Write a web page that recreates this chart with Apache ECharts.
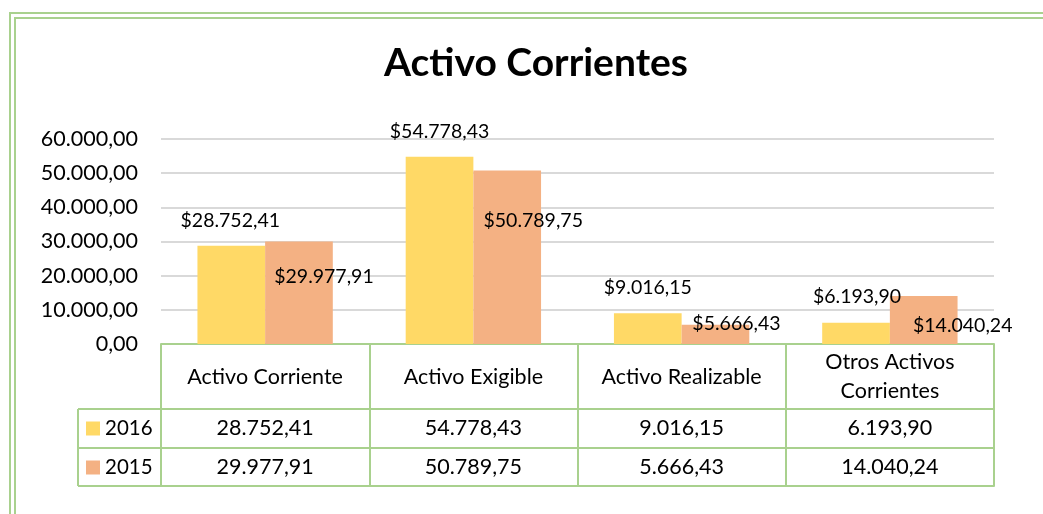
<!DOCTYPE html>
<html>
<head>
<meta charset="utf-8">
<script src="https://cdn.jsdelivr.net/npm/echarts@6/dist/echarts.min.js"></script>
<style>
html,body{margin:0;padding:0;background:#fff;}
#chart{width:1043px;height:514px;}
</style>
</head>
<body>
<div id="chart"></div>
<script>
var categories = ['Activo Corriente', 'Activo Exigible', 'Activo Realizable', 'Otros Activos Corrientes'];
var serie2016 = [28752.41, 54778.43, 9016.15, 6193.90];
var serie2015 = [29977.91, 50789.75, 5666.43, 14040.24];
var yTicks = [0, 10000, 20000, 30000, 40000, 50000, 60000];

// label nudges, like the hand-moved labels in the original
var off2016 = [[-1, -10], [0, -10], [0, -10], [1, -11]];
var off2015 = [[25, 50], [26, 65], [21, 14], [39, 45]];

var green = '#A9D18E';
var txt = '#000';
var font = 'Lato';
var tblSize = 21.5, lblSize = 19.5;

// grid box
var gl = 161, gr = 994, gt = 139, gb = 344;
var row1 = 409, row2 = 448, row3 = 486, legX = 78;

function fmt(v) {
    var p = v.toFixed(2).split('.');
    return p[0].replace(/\B(?=(\d{3})+(?!\d))/g, '.') + ',' + p[1];
}

function withOffset(vals, offs) {
    return vals.map(function (v, i) {
        return {value: v, label: {offset: offs[i]}};
    });
}

var myChart = echarts.init(document.getElementById('chart'));
var option = {
    animation: false,
    textStyle: {fontFamily: font},
    title: {
        text: 'Activo Corrientes',
        left: 384,
        top: 44,
        padding: 0,
        textStyle: {fontFamily: font, fontSize: 39, fontWeight: 'bold', color: txt}
    },
    legend: {
        orient: 'vertical',
        left: 86,
        top: 418,
        padding: 0,
        itemWidth: 14,
        itemHeight: 14,
        itemGap: 18,
        icon: 'rect',
        selectedMode: false,
        data: ['2016', '2015'],
        textStyle: {fontFamily: font, fontSize: 20.5, color: txt, lineHeight: 20, verticalAlign: 'middle'}
    },
    grid: {left: gl, right: 1043 - gr, top: gt, bottom: 514 - gb},
    xAxis: [{
        type: 'category',
        data: categories,
        axisLine: {lineStyle: {color: green, width: 2}},
        axisTick: {show: true, length: row1 - gb, lineStyle: {color: green, width: 2}},
        axisLabel: {
            color: txt, fontSize: tblSize, fontFamily: font, margin: 33,
            verticalAlign: 'middle', lineHeight: 29,
            interval: 0,
            formatter: function (v) { return v.replace('Otros Activos ', 'Otros Activos\n'); }
        }
    }, {
        type: 'category',
        position: 'bottom',
        offset: row1 - gb,
        data: serie2016.map(fmt),
        axisLine: {lineStyle: {color: green, width: 2}},
        axisTick: {show: true, length: row2 - row1, lineStyle: {color: green, width: 2}},
        axisLabel: {color: txt, fontSize: tblSize, fontFamily: font, margin: 19, verticalAlign: 'middle', interval: 0}
    }, {
        type: 'category',
        position: 'bottom',
        offset: row2 - gb,
        data: serie2015.map(fmt),
        axisLine: {lineStyle: {color: green, width: 2}},
        axisTick: {show: true, length: row3 - row2, lineStyle: {color: green, width: 2}},
        axisLabel: {color: txt, fontSize: tblSize, fontFamily: font, margin: 19, verticalAlign: 'middle', interval: 0}
    }, {
        type: 'category',
        position: 'bottom',
        offset: row3 - gb,
        data: categories,
        axisLine: {lineStyle: {color: green, width: 2}},
        axisTick: {show: false},
        axisLabel: {show: false}
    }],
    yAxis: {
        type: 'value',
        min: yTicks[0],
        max: yTicks[yTicks.length - 1],
        interval: yTicks[1] - yTicks[0],
        axisLine: {show: false},
        axisTick: {show: false},
        axisLabel: {
            color: txt, fontSize: tblSize, fontFamily: font, margin: 23,
            formatter: function (v) { return fmt(v); }
        },
        splitLine: {lineStyle: {color: '#D9D9D9', width: 2}}
    },
    series: [{
        name: '2016',
        type: 'bar',
        barGap: '0%',
        barCategoryGap: '35%',
        itemStyle: {color: '#FFD966'},
        label: {
            show: true, position: 'top', distance: 5,
            color: txt, fontSize: lblSize, fontFamily: font,
            formatter: function (p) { return '$' + fmt(p.value); }
        },
        data: withOffset(serie2016, off2016)
    }, {
        name: '2015',
        type: 'bar',
        itemStyle: {color: '#F4B183'},
        label: {
            show: true, position: 'top', distance: 5,
            color: txt, fontSize: lblSize, fontFamily: font,
            formatter: function (p) { return '$' + fmt(p.value); }
        },
        data: withOffset(serie2015, off2015)
    }],
    graphic: [
        // double border, left and top
        {type: 'line', shape: {x1: 10, y1: 13, x2: 10, y2: 514}, style: {stroke: green, lineWidth: 2}},
        {type: 'line', shape: {x1: 15, y1: 18, x2: 15, y2: 514}, style: {stroke: green, lineWidth: 2}},
        {type: 'line', shape: {x1: 9, y1: 13, x2: 1043, y2: 13}, style: {stroke: green, lineWidth: 2}},
        {type: 'line', shape: {x1: 14, y1: 18, x2: 1043, y2: 18}, style: {stroke: green, lineWidth: 2}},
        // legend column of the data table
        {type: 'line', shape: {x1: legX, y1: row1, x2: legX, y2: row3}, style: {stroke: green, lineWidth: 2}},
        {type: 'line', shape: {x1: legX, y1: row1, x2: gl, y2: row1}, style: {stroke: green, lineWidth: 2}},
        {type: 'line', shape: {x1: legX, y1: row2, x2: gl, y2: row2}, style: {stroke: green, lineWidth: 2}},
        {type: 'line', shape: {x1: legX, y1: row3, x2: gl, y2: row3}, style: {stroke: green, lineWidth: 2}}
    ]
};
myChart.setOption(option);
window.addEventListener('resize', function () { myChart.resize(); });
</script>
</body>
</html>
